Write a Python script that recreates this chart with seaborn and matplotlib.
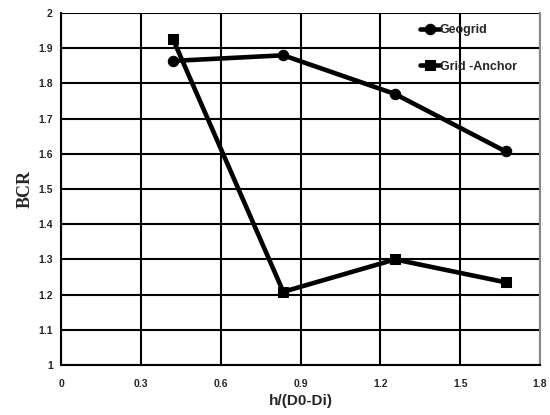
import pandas as pd
import matplotlib
matplotlib.use('Agg')
import matplotlib.pyplot as plt
import seaborn as sns

x_vals = [0.42, 0.835, 1.255, 1.67]
geogrid = [1.864, 1.880, 1.770, 1.607]
grid_anchor = [1.927, 1.208, 1.300, 1.235]
series = ['Geogrid', 'Grid -Anchor']
x_ticks = [0, 0.3, 0.6, 0.9, 1.2, 1.5, 1.8]
y_ticks = [1, 1.1, 1.2, 1.3, 1.4, 1.5, 1.6, 1.7, 1.8, 1.9, 2]

df = pd.DataFrame({
    'x': x_vals * 2,
    'BCR': geogrid + grid_anchor,
    'type': [series[0]] * 4 + [series[1]] * 4,
})

sns.set_style('white')
plt.rcParams['font.family'] = ['Liberation Sans', 'DejaVu Sans']

fig = plt.figure(figsize=(5.5, 4.15), dpi=100)
ax = fig.add_axes([0.111, 0.1205, 0.871, 0.848])

sns.lineplot(data=df, x='x', y='BCR', hue='type', style='type',
             markers={'Geogrid': 'o', 'Grid -Anchor': 's'}, dashes=False,
             palette=['black', 'black'], linewidth=3.3, markersize=7.5,
             markeredgecolor='black', ax=ax, zorder=3)

ax.set_xlim(0, 1.8)
ax.set_ylim(1, 2)
ax.set_xticks(x_ticks)
ax.set_xticklabels(['0', '0.3', '0.6', '0.9', '1.2', '1.5', '1.8'])
ax.set_yticks(y_ticks)
ax.set_yticklabels(['1', '1.1', '1.2', '1.3', '1.4', '1.5', '1.6', '1.7', '1.8', '1.9', '2'])
ax.tick_params(axis='both', labelsize=7.5, length=0)
ax.tick_params(axis='x', pad=10)
ax.tick_params(axis='y', pad=6)
for lab in ax.get_xticklabels() + ax.get_yticklabels():
    lab.set_fontweight('bold')

ax.grid(True, color='black', linewidth=1.5)
for side in ['left', 'bottom']:
    ax.spines[side].set_color('black')
    ax.spines[side].set_linewidth(1.5)
ax.spines['top'].set_visible(False)
ax.spines['right'].set_color('#888888')
ax.spines['right'].set_linewidth(1.5)

ax.set_xlabel('h/(D0-Di)', fontsize=11, fontweight='bold', labelpad=4)
ax.set_ylabel('BCR', fontsize=13, fontweight='bold', family='Liberation Serif', labelpad=3)

leg = ax.legend(loc='upper right', bbox_to_anchor=(0.975, 1.0), frameon=False,
                handlelength=1.6, handletextpad=0.0, labelspacing=1.95,
                prop={'weight': 'bold', 'size': 9})

fig.savefig('out.png', dpi=100)
